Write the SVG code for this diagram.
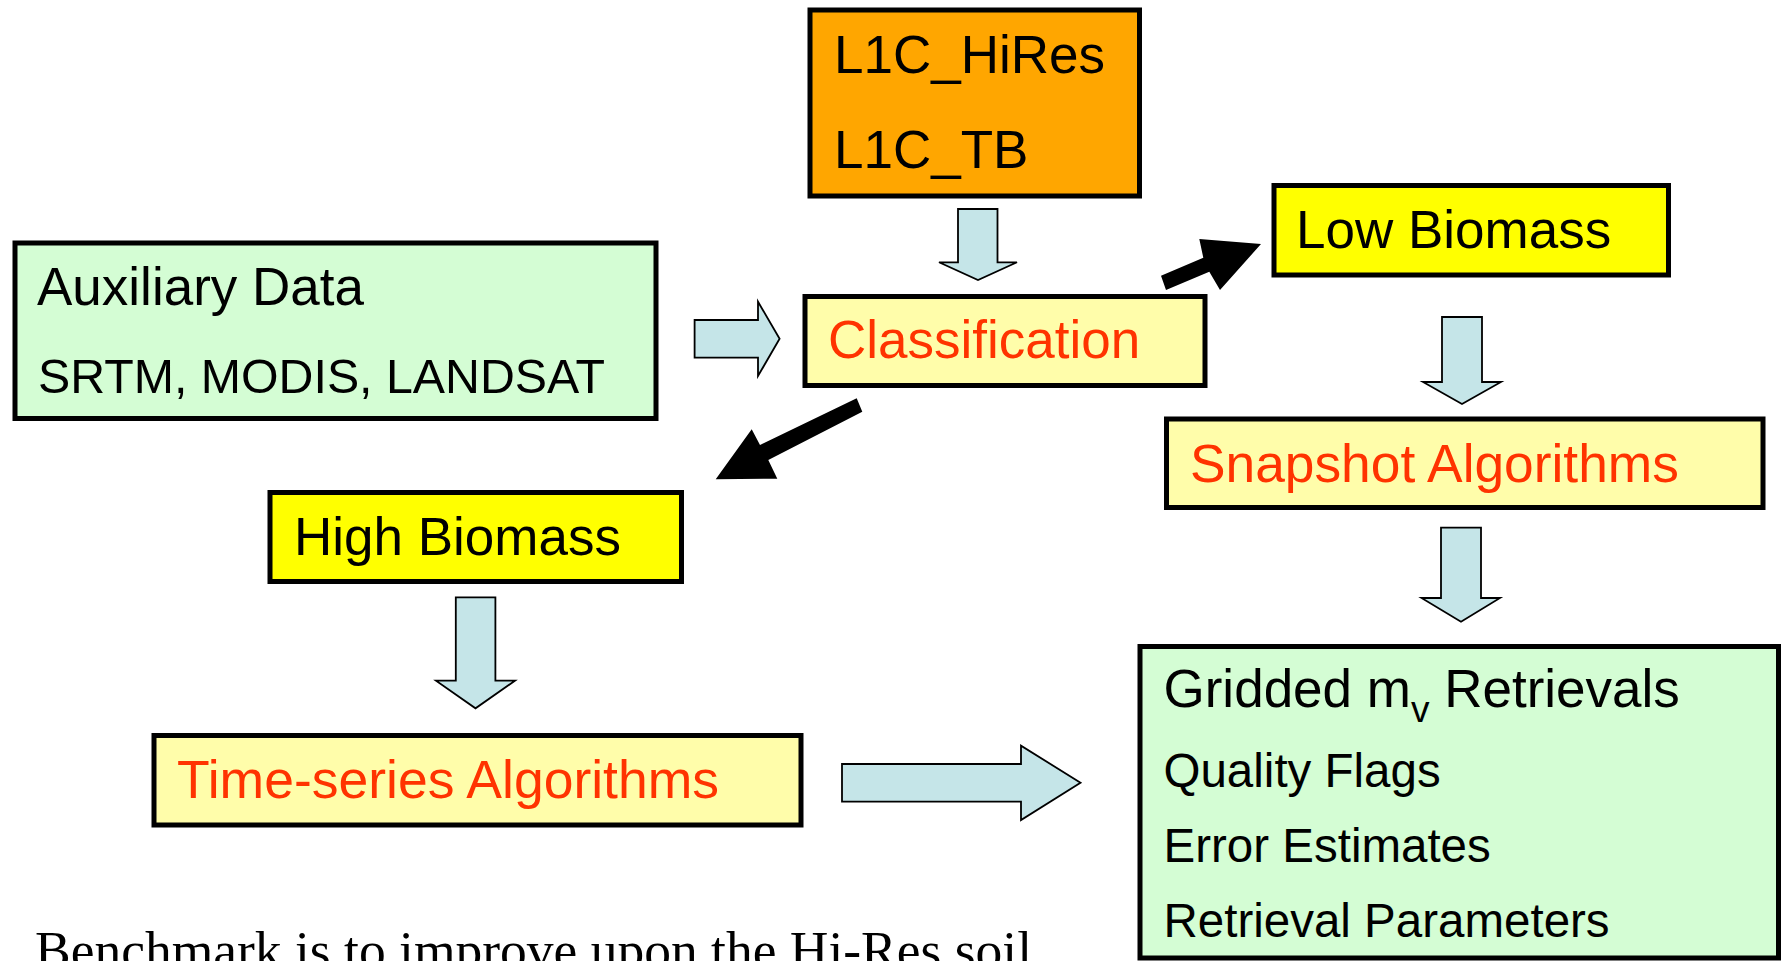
<svg xmlns="http://www.w3.org/2000/svg" width="1783" height="961" viewBox="0 0 1783 961">
  <style>
    .box { stroke: #000; stroke-width: 5; }
    .inputs { fill: #FFA600; }
    .aux { fill: #D4FDD4; }
    .biomass { fill: #FFFF00; }
    .algo { fill: #FFFDAA; }
    .t { font-family: "Liberation Sans", Arial, sans-serif; font-size: 53px; fill: #000; }
    .t2 { font-family: "Liberation Sans", Arial, sans-serif; font-size: 47.5px; fill: #000; }
    .red { fill: #FF3300; }
    .flow { fill: #C5E5E8; stroke: #000; stroke-width: 1.8; stroke-linejoin: miter; }
    .branch { fill: #000; stroke: none; }
    .note { font-family: "Liberation Serif", "Times New Roman", serif; font-size: 53.5px; fill: #000; }
  </style>

  <rect width="1783" height="961" fill="#FFFFFF"/>

  <!-- connectors -->
  <g id="connectors">
    <polygon class="flow" points="958,209 997.5,209 997.5,262.3 1017,262.3 978,280 939,262.3 958,262.3"/>
    <polygon class="flow" points="694.6,320 758,320 758,301.7 779.6,338.7 758,376 758,357.7 694.6,357.7"/>
    <polygon class="flow" points="1442,317 1482,317 1482,382 1501,382 1462,404 1423,382 1442,382"/>
    <polygon class="flow" points="1441,527.7 1481,527.7 1481,598 1500,598 1461,621.7 1421.5,598 1441,598"/>
    <polygon class="flow" points="455.8,597.3 495.4,597.3 495.4,680.7 515,680.7 475.5,708.3 436,680.7 455.8,680.7"/>
    <polygon class="flow" points="842,764 1021,764 1021,745.7 1080.5,782.7 1021,820 1021,801.7 842,801.7"/>
    <!-- classification branches -->
    <polygon class="branch" points="856.7,398.3 862.3,411.7 768.3,460 777.3,478.7 715.7,479.3 751.7,429.3 760,445"/>
    <polygon class="branch" points="1161,275.7 1166,290 1209.3,271.7 1220,290 1261,244 1199.3,239 1203.3,257.7"/>
  </g>

  <g id="l1c-inputs">
    <rect class="box inputs" x="810" y="10" width="329.5" height="186"/>
    <text class="t" x="834" y="72.7">L1C_HiRes</text>
    <text class="t" x="834" y="168.3">L1C_TB</text>
  </g>

  <g id="auxiliary-data">
    <rect class="box aux" x="15" y="243" width="641" height="175.5"/>
    <text class="t" x="37" y="305">Auxiliary Data</text>
    <text class="t2" x="38" y="393.3" style="font-size:48.3px">SRTM, MODIS, LANDSAT</text>
  </g>

  <g id="classification">
    <rect class="box algo" x="805" y="296.5" width="400" height="89"/>
    <text class="t red" x="828" y="357.7">Classification</text>
  </g>

  <g id="low-biomass">
    <rect class="box biomass" x="1274" y="185.5" width="394.5" height="89.5"/>
    <text class="t" x="1296" y="248.3">Low Biomass</text>
  </g>

  <g id="snapshot-algorithms">
    <rect class="box algo" x="1166.5" y="419" width="596.5" height="88.5"/>
    <text class="t red" x="1190" y="481.7" style="font-size:53.3px">Snapshot Algorithms</text>
  </g>

  <g id="high-biomass">
    <rect class="box biomass" x="270" y="492.5" width="411.5" height="89"/>
    <text class="t" x="294" y="555">High Biomass</text>
  </g>

  <g id="time-series-algorithms">
    <rect class="box algo" x="154" y="735.5" width="647" height="89.5"/>
    <text class="t red" x="177" y="798.3" style="font-size:53.5px">Time-series Algorithms</text>
  </g>

  <g id="outputs">
    <rect class="box aux" x="1140" y="646.5" width="638.5" height="311.5"/>
    <text class="t" x="1163.5" y="706.7">Gridded m<tspan style="font-size:37px" dy="15">v</tspan><tspan dy="-15"> Retrievals</tspan></text>
    <text class="t2" x="1163.5" y="786.7">Quality Flags</text>
    <text class="t2" x="1163.5" y="861.7">Error Estimates</text>
    <text class="t2" x="1163.5" y="936.7">Retrieval Parameters</text>
  </g>

  <!-- caption line, running past the lower edge -->
  <text class="note" x="35" y="968.4">Benchmark is to improve upon the Hi-Res soil</text>
</svg>
